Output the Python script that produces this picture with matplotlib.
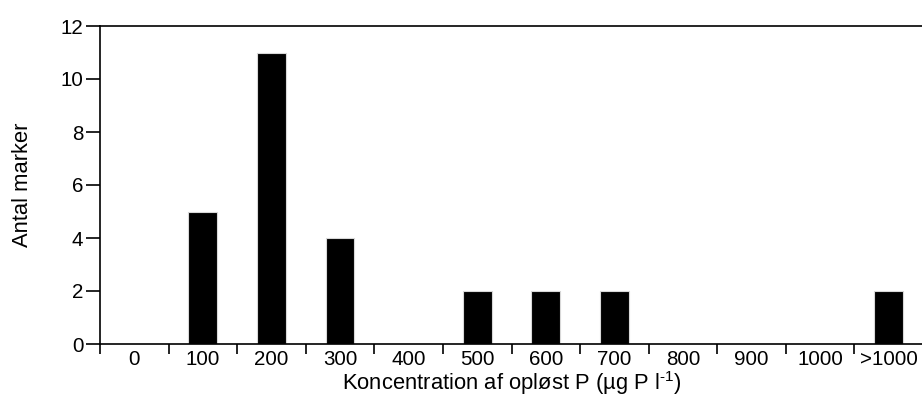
import matplotlib
matplotlib.use("Agg")
import matplotlib.pyplot as plt
import numpy as np

categories = ["0", "100", "200", "300", "400", "500", "600", "700", "800", "900", "1000", ">1000"]
counts = [0, 5, 11, 4, 0, 2, 2, 2, 0, 0, 0, 2]
yticks = [0, 2, 4, 6, 8, 10, 12]

plt.rcParams['font.family'] = ['Liberation Sans', 'DejaVu Sans']
plt.rcParams['mathtext.fontset'] = 'custom'
plt.rcParams['mathtext.rm'] = 'Liberation Sans'
plt.rcParams['mathtext.it'] = 'Liberation Sans'
plt.rcParams['mathtext.bf'] = 'Liberation Sans'

fig = plt.figure(figsize=(9.22, 3.97), dpi=100)
ax = fig.add_axes([100/922, 53/397, 823/922, 318/397])

x = np.arange(len(categories))
ax.bar(x, counts, width=0.42, color='black', edgecolor='#d8d8d8', linewidth=0.8)

ax.set_xlim(-0.5, len(categories) - 0.5)
ax.set_ylim(0, 12)
ax.set_yticks(yticks)
ax.set_yticklabels([str(v) for v in yticks], fontsize=14.8)
ax.set_xticks(x)
ax.set_xticklabels(categories, fontsize=14.8)
ax.tick_params(axis='x', which='major', length=0, pad=4)
ax.set_xticks(np.arange(len(categories) + 1) - 0.5, minor=True)
ax.tick_params(axis='x', which='minor', length=7, width=1.2, direction='out')
ax.tick_params(axis='y', length=10, width=1.2, direction='out', pad=2)

for s in ['left', 'top', 'bottom', 'right']:
    ax.spines[s].set_linewidth(1.2)

ax.set_ylabel("Antal marker", fontsize=15.8, labelpad=20)
ax.set_xlabel("Koncentration af opløst P (µg P l$^{\\text{-1}}$)", fontsize=15.8, labelpad=0.5)

fig.savefig("out.png", dpi=100)
